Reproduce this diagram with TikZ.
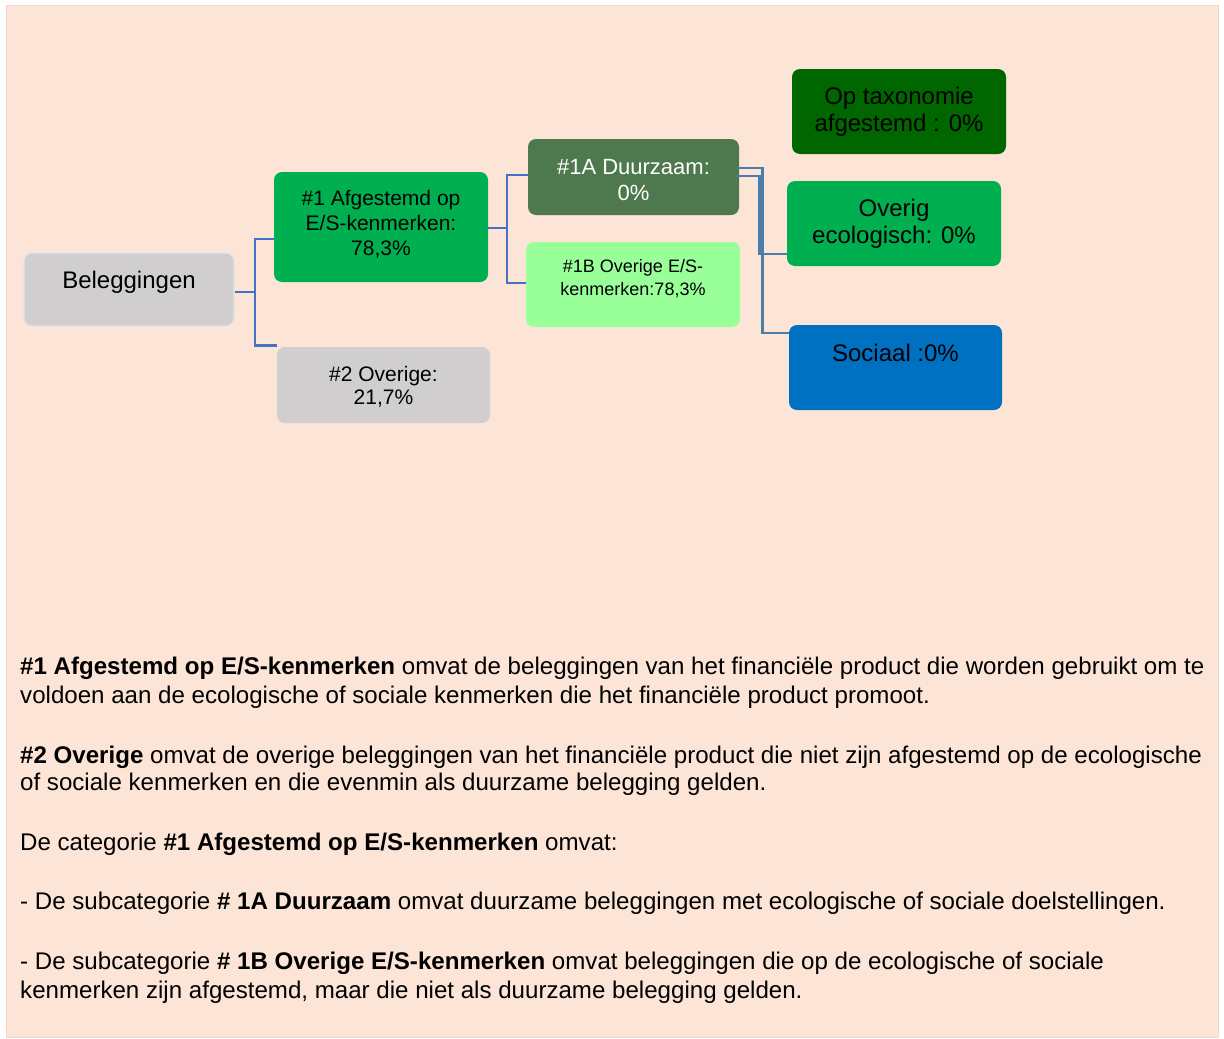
\documentclass[tikz,border=0pt]{standalone}
\usepackage{fontspec}
\setmainfont{Liberation Sans}
\definecolor{bgc}{HTML}{FCE4D6}
\definecolor{bgline}{HTML}{EED8CC}
\definecolor{boxgray}{HTML}{D0CECE}
\definecolor{belborder}{HTML}{E4E4EA}
\definecolor{esgreen}{HTML}{00B050}
\definecolor{taxgreen}{HTML}{006600}
\definecolor{susgreen}{HTML}{4E784E}
\definecolor{lightgreen}{HTML}{99FF99}
\definecolor{socblue}{HTML}{0070C0}
\definecolor{lblue}{HTML}{4472C4}
\definecolor{rblue}{HTML}{4A7DA8}
\tikzset{
  box/.style={rounded corners=8pt, inner sep=0pt},
  lbl/.style={inner sep=0pt, align=center},
  lconn/.style={draw=lblue, line width=2.7pt},
  rconn/.style={draw=rblue, line width=2.7pt},
  txtline/.style={anchor=base west, inner sep=0pt, font=\fontsize{24.1}{29}\selectfont}
}
\begin{document}
\begin{tikzpicture}[x=1pt,y=-1pt]
\useasboundingbox (0,0) rectangle (1224,1039);
\fill[white] (0,0) rectangle (1224,1039);
\filldraw[fill=bgc, draw=bgline, line width=0.8pt] (6,5) rectangle (1218,1037);

% boxes
\node[box, fill=boxgray, draw=belborder, line width=1.2pt, minimum width=210pt, minimum height=73pt] (b0) at (129,289.5) {};
\node[box, fill=esgreen, minimum width=214pt, minimum height=110pt] (b1) at (381,227) {};
\node[box, fill=boxgray, minimum width=213pt, minimum height=76pt] (b2) at (383.5,385) {};
\node[box, fill=susgreen, minimum width=211pt, minimum height=76pt] (b1a) at (633.5,177) {};
\node[box, fill=lightgreen, minimum width=214pt, minimum height=85pt] (b1b) at (633,284.5) {};
\node[box, fill=taxgreen, minimum width=214pt, minimum height=85pt] (bt) at (899,111.5) {};
\node[box, fill=esgreen, minimum width=214pt, minimum height=85pt] (be) at (894,223.5) {};
\node[box, fill=socblue, minimum width=213pt, minimum height=85pt] (bs) at (895.5,367.5) {};

% box texts
\node[lbl, font=\fontsize{24}{27}\selectfont] (t0) at (129,282) {Beleggingen};
\node[lbl, font=\fontsize{21}{25}\selectfont] (t1) at (381,224) {\#1 Afgestemd op\\E/S-kenmerken:\\78,3\%};
\node[lbl, font=\fontsize{21}{23}\selectfont] (t2) at (383.5,387) {\#2 Overige:\\21,7\%};
\node[lbl, text=white, font=\fontsize{22}{26}\selectfont] (t1a) at (633.5,180) {\#1A Duurzaam:\\0\%};
\node[lbl, font=\fontsize{18}{23}\selectfont] (t1b) at (633,278.5) {\#1B Overige E/S-\\kenmerken:78,3\%};
\node[lbl, font=\fontsize{24}{27}\selectfont] (tt) at (899,111.5) {Op taxonomie\\afgestemd : 0\%};
\node[lbl, font=\fontsize{24}{27}\selectfont] (te) at (894,223.5) {Overig\\ecologisch: 0\%};
\node[lbl, font=\fontsize{24}{27}\selectfont] (ts) at (895.5,353) {Sociaal :0\%};

% left connectors
\coordinate (j0) at (255,292);
\draw[lconn] ([yshift=-2.5pt]b0.east) -- (j0);
\draw[lconn] ([yshift=-12pt]b1.west) -| (j0) |- ([yshift=1pt]b2.north west);
\coordinate (j1) at (507,228);
\draw[lconn] ([yshift=-1pt]b1.east) -- (j1);
\draw[lconn] ([yshift=2pt]b1a.west) -| (j1) |- ([yshift=1.5pt]b1b.west);

% right connectors
\draw[rconn] ([xshift=-1pt,yshift=9pt]b1a.east) -- ++(24,0) -- ++(0,165) -- ([yshift=34.5pt]bs.west);
\draw[rconn] ([xshift=-4pt,yshift=1pt]b1a.east) -- ++(24,0) -- ++(0,78) -- ([yshift=-30.5pt]be.west);

% explanatory text
\node[txtline] (l1) at (20,674) {\textbf{\#1 Afgestemd op E/S-kenmerken} omvat de beleggingen van het financiële product die worden gebruikt om te};
\node[txtline] (l2) at (20,703) {voldoen aan de ecologische of sociale kenmerken die het financiële product promoot.};
\node[txtline] (l3) at (20,763) {\textbf{\#2 Overige} omvat de overige beleggingen van het financiële product die niet zijn afgestemd op de ecologische};
\node[txtline] (l4) at (20,790) {of sociale kenmerken en die evenmin als duurzame belegging gelden.};
\node[txtline] (l5) at (20,850) {De categorie \textbf{\#1 Afgestemd op E/S-kenmerken} omvat:};
\node[txtline] (l6) at (20,909) {- De subcategorie \textbf{\# 1A Duurzaam} omvat duurzame beleggingen met ecologische of sociale doelstellingen.};
\node[txtline] (l7) at (20,969) {- De subcategorie \textbf{\# 1B Overige E/S-kenmerken} omvat beleggingen die op de ecologische of sociale};
\node[txtline] (l8) at (20,998) {kenmerken zijn afgestemd, maar die niet als duurzame belegging gelden.};
\end{tikzpicture}
\end{document}
